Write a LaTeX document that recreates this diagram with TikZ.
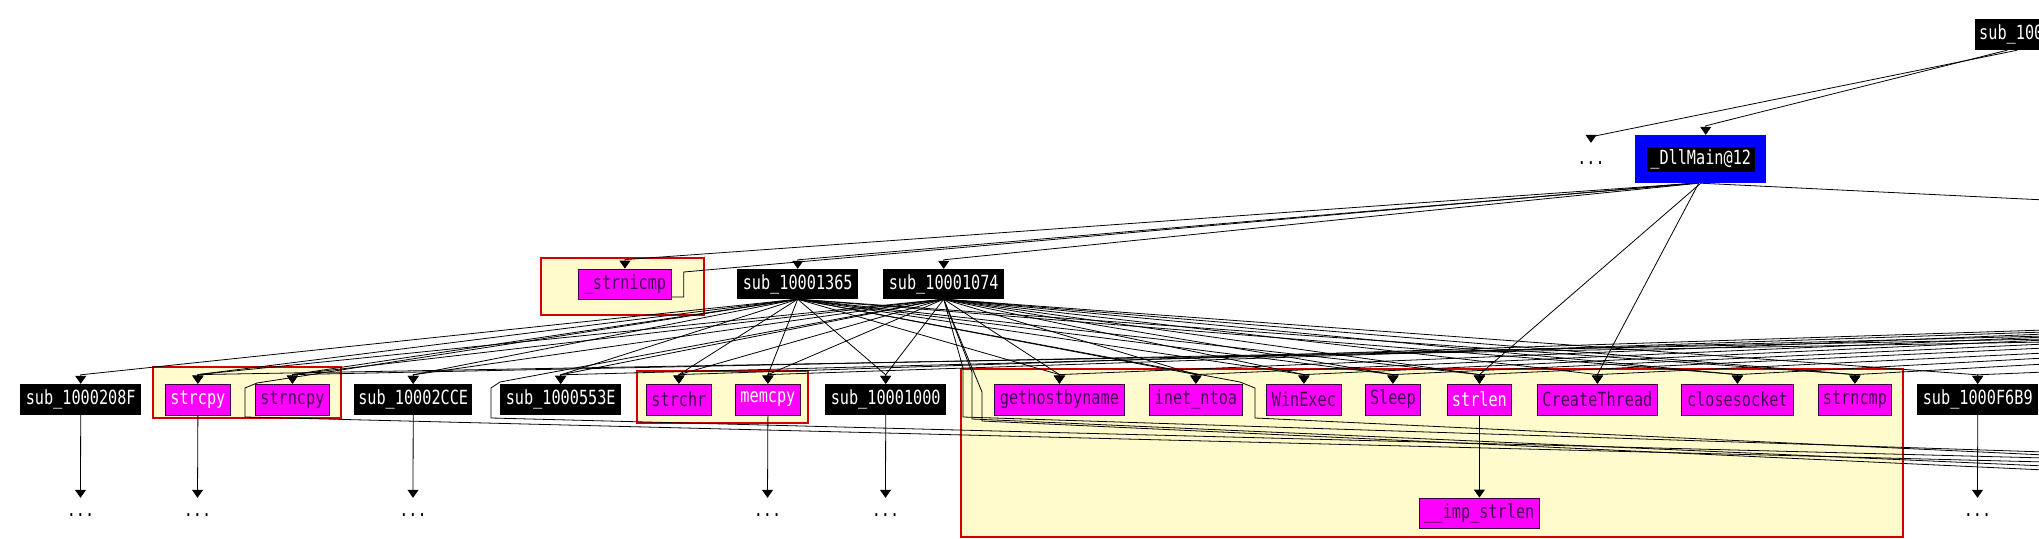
\documentclass[tikz,border=0pt]{standalone}
\usepackage{fontspec}
\newfontfamily\idaf[FakeStretch=0.78]{DejaVu Sans Mono}
\usetikzlibrary{arrows.meta}
\pgfdeclarelayer{bg}\pgfdeclarelayer{ed}\pgfsetlayers{bg,ed,main}
\definecolor{mag}{RGB}{255,0,255}
\definecolor{magtxt}{RGB}{64,0,80}
\definecolor{magdraw}{RGB}{60,0,60}
\definecolor{clfill}{RGB}{255,251,204}
\definecolor{clred}{RGB}{210,0,0}
\definecolor{dmblue}{RGB}{0,0,255}
\newcommand\cgE[3][]{\draw[cg,#1] (#2) -- ([yshift=9pt]#3.north) -- (#3.north);}
\begin{document}
\begin{tikzpicture}[x=1pt,y=-1pt,
  fn/.style={font=\idaf\fontsize{19.5}{20}\selectfont, inner sep=0pt, minimum height=31pt, anchor=west},
  blk/.style={fn, fill=black, text=white},
  lib/.style={fn, fill=mag, draw=magdraw, line width=0.8pt, text=magtxt},
  libw/.style={lib, text=white},
  cg/.style={draw=black, line width=0.8pt, -{Triangle[width=11pt,length=8pt]}},
  ln/.style={draw=black, line width=0.8pt},
  dotn/.style={font=\idaf\fontsize{19.5}{20}\selectfont, inner sep=0pt, minimum height=34pt},
  cluster/.style={fill=clfill, draw=clred, line width=2pt}]
\useasboundingbox (0,0) rectangle (2039,538);
\clip (0,0) rectangle (2039,538);
\begin{pgfonlayer}{bg}
  \fill[white] (0,0) rectangle (2039,538);
  \draw[cluster] (541,258) rectangle (704,315);
  \draw[cluster] (153,367) rectangle (341,418);
  \draw[cluster] (637,371) rectangle (808,423);
  \draw[cluster] (961,369) rectangle (1903,537);
\end{pgfonlayer}

% top
\node[blk, inner xsep=4pt] (n100) at (1975,34.5) {sub\_100};
\node[fn, fill=dmblue, minimum width=131pt, minimum height=48pt] (dmbox) at (1635,159) {};
\node[fn, anchor=center, fill=black, text=white, minimum width=108pt, minimum height=25pt] (dm) at (dmbox.center) {\_DllMain@12};
\node[dotn, minimum height=40pt] (dt) at (1591,163) {...};

% row 2
\node[lib, minimum width=93pt, minimum height=30pt] (snic) at (578,284) {\_strnicmp};
\node[blk, minimum width=121pt, minimum height=30pt] (s1365) at (737,284) {sub\_10001365};
\node[blk, minimum width=121pt, minimum height=30pt] (s1074) at (883,284) {sub\_10001074};

% row 3
\node[blk, minimum width=121pt] (s208F) at (20,399.5) {sub\_1000208F};
\node[libw, minimum width=65pt] (cpy) at (165,399.5) {strcpy};
\node[lib, minimum width=74pt] (ncpy) at (255,399.5) {strncpy};
\node[blk, minimum width=118pt] (s2CCE) at (354,399.5) {sub\_10002CCE};
\node[blk, minimum width=121pt] (s553E) at (500,399.5) {sub\_1000553E};
\node[lib, minimum width=65pt] (chr) at (646,399.5) {strchr};
\node[libw, minimum width=65pt] (mcpy) at (735,399.5) {memcpy};
\node[blk, minimum width=121pt] (s1000) at (825,399.5) {sub\_10001000};
\node[lib, minimum width=130pt] (ghbn) at (994,399.5) {gethostbyname};
\node[lib, minimum width=93pt] (ntoa) at (1149,399.5) {inet\_ntoa};
\node[lib, minimum width=75pt] (wexe) at (1266,399.5) {WinExec};
\node[lib, minimum width=55pt] (slp) at (1365,399.5) {Sleep};
\node[libw, minimum width=64pt] (slen) at (1447,399.5) {strlen};
\node[lib, minimum width=120pt] (cth) at (1537,399.5) {CreateThread};
\node[lib, minimum width=112pt] (csock) at (1681,399.5) {closesocket};
\node[lib, minimum width=73pt] (ncmp) at (1818,399.5) {strncmp};
\node[blk, minimum width=121pt] (sF6B9) at (1917,399.5) {sub\_1000F6B9};

% row 4
\node[lib, minimum width=120pt, minimum height=30pt] (implen) at (1419,513) {\_\_imp\_strlen};
\node[dotn] (d1) at (80.5,515) {...};
\node[dotn] (d2) at (197.5,515) {...};
\node[dotn] (d3) at (413,515) {...};
\node[dotn] (d4) at (767.5,515) {...};
\node[dotn] (d5) at (885.5,515) {...};
\node[dotn] (d6) at (1977.5,515) {...};

% off-screen ends
\coordinate (rF6B9) at (2045,372);
\coordinate (rncmp) at (2045,364);
\coordinate (rcsock) at (2045,358);
\coordinate (rcth) at (2045,353);
\coordinate (rslen) at (2045,348);
\coordinate (rslp) at (2045,344);
\coordinate (rwexe) at (2045,340);
\coordinate (rntoa) at (2045,337);
\coordinate (rghbn) at (2045,334);
\coordinate (rmcpy) at (2045,332);
\coordinate (rchr) at (2045,330);
\coordinate (r553) at (2045,336);
\coordinate (rncpy) at (2045,339);
\coordinate (rcpy) at (2045,342);
\coordinate (rdm) at (2045,200);
\coordinate (b1) at (2045,462);
\coordinate (b2) at (2045,458);
\coordinate (b3) at (2045,452);
\coordinate (b4) at (2045,466);
\coordinate (b5) at (2045,470);
\coordinate (b6) at (2045,455);

\begin{pgfonlayer}{ed}
  % top
  \draw[cg] ([xshift=6pt]n100.south) -- ([yshift=6pt]dt.north) -- (dt.north);
  \draw[cg] ([xshift=-4pt]n100.south) -- ([xshift=5pt,yshift=9pt]dmbox.north) -- ([xshift=5pt]dmbox.north);
  % from DllMain
  \cgE{[xshift=-6pt]dmbox.south}{snic}
  \cgE{[xshift=-4pt]dmbox.south}{s1365}
  \cgE{[xshift=-2pt]dmbox.south}{s1074}
  \draw[ln] ([xshift=-8pt]dmbox.south) -- ([xshift=12pt,yshift=12pt]snic.east) -- ([xshift=12pt,yshift=-13pt]snic.east) -- ([yshift=-13pt]snic.east);
  \cgE{dmbox.south}{slen}
  \cgE{[xshift=-2pt]dmbox.south}{cth}
  \draw[ln] (dmbox.south) -- (rdm);
  % from sub_10001365
  \foreach \t in {s208F,cpy,ncpy,s2CCE,s553E,chr,mcpy,s1000,ghbn,ntoa,wexe,slp,slen,csock,ncmp}
    {\cgE{s1365.south}{\t}}
  % from sub_10001074
  \foreach \t in {cpy,ncpy,s2CCE,s553E,chr,mcpy,s1000,ghbn,ntoa,wexe,slp,slen,cth,csock,ncmp,sF6B9}
    {\cgE{s1074.south}{\t}}
  % from the right, off the picture
  \cgE{rF6B9}{sF6B9}
  \cgE{rncmp}{ncmp}
  \cgE{rcsock}{csock}
  \cgE{rcth}{cth}
  \cgE{rslen}{slen}
  \cgE{rslp}{slp}
  \cgE{rwexe}{wexe}
  \cgE{rntoa}{ntoa}
  \cgE{rghbn}{ghbn}
  \cgE{rmcpy}{mcpy}
  \cgE{rchr}{chr}
  \cgE{r553}{s553E}
  \cgE{rncpy}{ncpy}
  \cgE{rcpy}{cpy}
  % routed below the row
  \draw[ln] (s1365.south) -- (257,383) -- (245,388) -- (245,417) -- (b1);
  \draw[ln] (s1074.south) -- (500,382) -- (491,388) -- (491,418) -- (b2);
  \draw[ln] (s1074.south) -- (963,368) -- (963,417) -- (b3);
  \draw[ln] (s1074.south) -- (972,372) -- (972,419) -- (b4);
  \draw[ln] (s1074.south) -- (982,392) -- (982,421) -- (b5);
  \draw[ln] (s1365.south) -- (1240,382) -- (1255,388) -- (1255,418) -- (b6);
  % down
  \draw[cg] (s208F.south) -- (d1.north);
  \draw[cg] (cpy.south) -- (d2.north);
  \draw[cg] (s2CCE.south) -- (d3.north);
  \draw[cg] (mcpy.south) -- (d4.north);
  \draw[cg] (s1000.south) -- (d5.north);
  \draw[cg] (sF6B9.south) -- (d6.north);
  \draw[cg] (slen.south) -- (implen.north);
\end{pgfonlayer}
\end{tikzpicture}
\end{document}
